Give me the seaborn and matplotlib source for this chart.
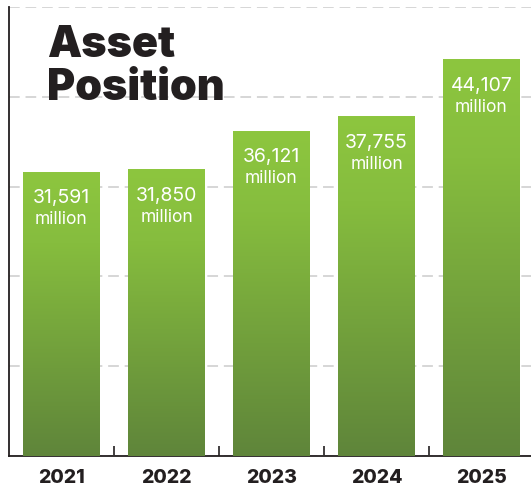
import numpy as np
import pandas as pd
import matplotlib
matplotlib.use("Agg")
import matplotlib.pyplot as plt
import seaborn as sns
from matplotlib.colors import LinearSegmentedColormap
from matplotlib.ticker import FixedLocator

# Data
years = ["2021", "2022", "2023", "2024", "2025"]
assets = [31591, 31850, 36121, 37755, 44107]
value_labels = ["31,591", "31,850", "36,121", "37,755", "44,107"]
unit_label = "million"
title_lines = ["Asset", "Position"]

INK = "#231F20"
GREEN_TOP = "#8DC63F"
GREEN_BOTTOM = "#5F853A"

sns.set_theme(style="white")
plt.rcParams["font.family"] = ["Inter", "DejaVu Sans"]

W, H = 531, 489
fig = plt.figure(figsize=(W / 100, H / 100), dpi=100)
ax = fig.add_axes([9 / W, 32 / H, 525 / W, 449 / H])

df = pd.DataFrame({"year": years, "assets": assets})
sns.barplot(data=df, x="year", y="assets", color=GREEN_TOP, saturation=1,
            width=0.733, ax=ax, zorder=3)

# vertical gradient fill for each bar (brighter over the upper part)
cmap = LinearSegmentedColormap.from_list(
    "bar_grad", [(0.0, GREEN_BOTTOM), (0.75, "#86BD3E"), (1.0, GREEN_TOP)])
grad = np.linspace(0, 1, 256).reshape(-1, 1)
for patch in ax.patches:
    x0 = patch.get_x()
    w = patch.get_width()
    h = patch.get_height()
    ax.imshow(grad, cmap=cmap, origin="lower", aspect="auto",
              extent=(x0, x0 + w, 0, h), zorder=3.5, interpolation="bilinear")
    patch.set_visible(False)

ax.set_xlim(-0.5, 4.5)
ax.set_ylim(0, 50000)

# value labels inside the bars
for i, (v, lab) in enumerate(zip(assets, value_labels)):
    ax.annotate(lab, xy=(i, v), xytext=(0, -21.5), textcoords="offset points",
                ha="center", va="baseline", color="white", fontsize=14,
                fontweight="normal", zorder=5)
    ax.annotate(unit_label, xy=(i, v), xytext=(0, -36.5), textcoords="offset points",
                ha="center", va="baseline", color="white", fontsize=12.5,
                fontweight="normal", zorder=5)

# gridlines
ax.set_yticks([0, 10000, 20000, 30000, 40000, 50000])
ax.set_yticklabels([])
ax.yaxis.grid(True, color="#d6d6d6", linewidth=1.4, linestyle=(0, (5.5, 3)))
ax.xaxis.grid(False)
ax.tick_params(axis="y", length=0)

# category labels and boundary ticks
ax.set_xlabel("")
ax.set_ylabel("")
ax.xaxis.set_minor_locator(FixedLocator([0.5, 1.5, 2.5, 3.5]))
ax.tick_params(axis="x", which="major", length=0, pad=9, labelsize=14,
               labelcolor=INK)
ax.tick_params(axis="x", which="minor", direction="in", length=7.5, width=1.2,
               color=INK, bottom=True)
for t in ax.get_xticklabels():
    t.set_fontweight("heavy")

for side in ["top", "right"]:
    ax.spines[side].set_visible(False)
for side in ["left", "bottom"]:
    ax.spines[side].set_color(INK)
    ax.spines[side].set_linewidth(1.3)

# two-line heading
for line, base_px in zip(title_lines, [57, 100]):
    fig.text(47 / W, 1 - base_px / H, line, ha="left", va="baseline", color=INK,
             fontsize=31, fontweight="black")

fig.savefig("out.png", dpi=100)
